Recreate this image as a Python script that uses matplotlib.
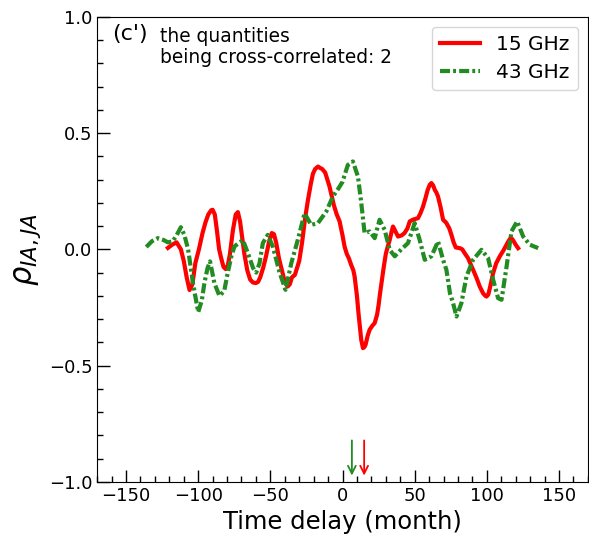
import numpy as np
import matplotlib
matplotlib.use("Agg")
import matplotlib.pyplot as plt

# ---------- data ----------
lag_15 = [-121, -118, -115, -112, -110, -108, -106, -104, -102, -99.5,
          -97, -95, -93, -91, -90, -88.5, -87, -85.5, -84, -82.5,
          -81, -79.5, -78, -76, -74, -72.5, -71, -69.5, -68, -66,
          -64, -62, -60, -58.5, -57, -55, -53, -51, -49, -47.5,
          -46, -44, -42, -40, -38, -36.5, -35, -33, -30, -28,
          -26, -24, -22, -20.5, -19, -17, -15.5, -14, -12, -10.5,
          -9, -7.5, -6, -4, -2, 0, 1.5, 3, 4.5, 6,
          7.5, 8.4, 10, 11, 12, 13, 14.2, 15.2, 16, 17.5,
          18.8, 20.5, 22.3, 24, 25, 26, 27, 28.5, 30, 31.5,
          32.7, 34, 35, 36.5, 38.5, 41, 43, 45, 46.6, 49,
          52.3, 54, 55.8, 57.5, 59, 60.5, 61.6, 62.8, 64, 65,
          66.2, 68, 69.7, 71, 72, 74, 75.5, 77, 78.5, 81.3,
          83, 84.5, 87, 90.5, 93, 95.1, 97.5, 99, 99.8, 101,
          102, 104.4, 106.5, 109, 111.5, 113.7, 115, 116.4, 117.5, 118.7,
          120, 121.7]
rho_15 = [0.006, 0.02, 0.03, 0.0, -0.05, -0.12, -0.175, -0.15, -0.06, 0.0,
          0.07, 0.115, 0.15, 0.168, 0.17, 0.15, 0.08, 0.0, -0.04, -0.075,
          -0.085, -0.07, -0.02, 0.08, 0.15, 0.16, 0.12, 0.05, -0.02, -0.09,
          -0.13, -0.143, -0.145, -0.14, -0.12, -0.08, -0.03, 0.03, 0.07, 0.065,
          0.03, -0.04, -0.09, -0.14, -0.16, -0.15, -0.12, -0.11, -0.05, 0.03,
          0.13, 0.21, 0.28, 0.325, 0.345, 0.356, 0.35, 0.345, 0.33, 0.3,
          0.27, 0.23, 0.19, 0.15, 0.12, 0.06, 0.01, -0.02, -0.04, -0.067,
          -0.09, -0.117, -0.2, -0.27, -0.33, -0.39, -0.425, -0.42, -0.41, -0.37,
          -0.346, -0.33, -0.317, -0.28, -0.24, -0.19, -0.145, -0.08, -0.02, 0.015,
          0.04, 0.075, 0.098, 0.08, 0.055, 0.06, 0.07, 0.09, 0.12, 0.128,
          0.134, 0.155, 0.184, 0.22, 0.255, 0.278, 0.285, 0.275, 0.255, 0.245,
          0.227, 0.18, 0.127, 0.12, 0.113, 0.09, 0.062, 0.03, 0.008, 0.005,
          0.0, -0.015, -0.038, -0.088, -0.125, -0.16, -0.19, -0.2, -0.203, -0.195,
          -0.17, -0.102, -0.06, -0.03, -0.005, 0.02, 0.035, 0.048, 0.045, 0.034,
          0.02, 0.005]

lag_43 = [-136, -132, -128, -124, -121, -117.7, -115, -112, -109.5, -107,
          -103.5, -100, -97.5, -95.7, -93.5, -91.8, -88.8, -85.3, -82, -79.5,
          -77, -74.9, -71.4, -69, -65.6, -62, -59.8, -57.5, -55.2, -51.8,
          -48.3, -43.6, -39.5, -35.5, -31, -26.3, -21.7, -17, -11.2, -6.7,
          -3, 0, 3.7, 7.2, 10.7, 13, 15.3, 18.8, 22.3, 25.7,
          29.2, 32.7, 36.2, 40.8, 45.4, 50, 53.5, 57, 61.6, 66.2,
          69.7, 72, 74.5, 76.6, 79, 82.4, 85.9, 90.5, 96.3, 100.9,
          104.4, 107.8, 110.2, 113.7, 117.1, 121, 125.2, 129.8, 135.6]
rho_43 = [0.01, 0.035, 0.048, 0.04, 0.03, 0.034, 0.06, 0.095, 0.06, 0.0,
          -0.15, -0.27, -0.22, -0.145, -0.08, -0.052, -0.145, -0.2, -0.18, -0.1,
          -0.03, 0.012, 0.03, 0.04, -0.016, -0.08, -0.1, -0.06, 0.027, 0.062,
          0.012, -0.1, -0.174, -0.06, 0.04, 0.155, 0.105, 0.113, 0.163, 0.227,
          0.26, 0.29, 0.363, 0.378, 0.313, 0.2, 0.07, 0.077, 0.048, 0.127,
          0.084, -0.002, -0.03, 0.0, 0.027, 0.113, 0.04, -0.045, -0.03, 0.034,
          -0.045, -0.088, -0.19, -0.231, -0.289, -0.231, -0.117, -0.045, -0.002, -0.038,
          -0.131, -0.21, -0.217, -0.074, 0.077, 0.12, 0.055, 0.02, 0.005]

peak_43 = 6.5   # arrow positions (month)
peak_15 = 15.0

# ---------- plot ----------
fig = plt.figure(figsize=(5.89, 5.42), dpi=100)
ax = fig.add_axes([0.165, 0.111, 0.833, 0.858])

ax.plot(lag_15, rho_15, color="red", lw=3, label="15 GHz")
ax.plot(lag_43, rho_43, color="forestgreen", lw=3,
        ls=(0, (2.4, 0.75, 0.7, 0.75)), label="43 GHz")

for xpk, col in [(peak_43, "forestgreen"), (peak_15, "red")]:
    ax.annotate("", xy=(xpk, -0.985), xytext=(xpk, -0.81),
                arrowprops=dict(arrowstyle="->", color=col, lw=1.3,
                                mutation_scale=14))

ax.set_xlim(-170, 170)
ax.set_ylim(-1.0, 1.0)
ax.set_xticks([-150, -100, -50, 0, 50, 100, 150])
ax.set_xticks(np.arange(-170, 171, 10), minor=True)
ax.set_yticks([-1.0, -0.5, 0.0, 0.5, 1.0])
ax.set_yticks(np.arange(-1.0, 1.01, 0.1), minor=True)
ax.tick_params(which="both", direction="in", top=False, right=False,
               labelsize=13)
ax.tick_params(which="major", length=9, width=1)
ax.tick_params(which="minor", length=4, width=1)

ax.set_xlabel("Time delay (month)", fontsize=17.5)
ax.set_ylabel(r"$\rho_{IA,JA}$", fontsize=22)

ax.text(0.03, 0.985, "(c')", transform=ax.transAxes, fontsize=16,
        va="top", ha="left")
ax.text(0.128, 0.978, "the quantities\nbeing cross-correlated: 2",
        transform=ax.transAxes, fontsize=13.4, va="top", ha="left",
        linespacing=1.15)

ax.legend(loc="upper right", fontsize=14.5, handlelength=2.0,
          labelspacing=0.45)

fig.savefig("out.png", dpi=100)
